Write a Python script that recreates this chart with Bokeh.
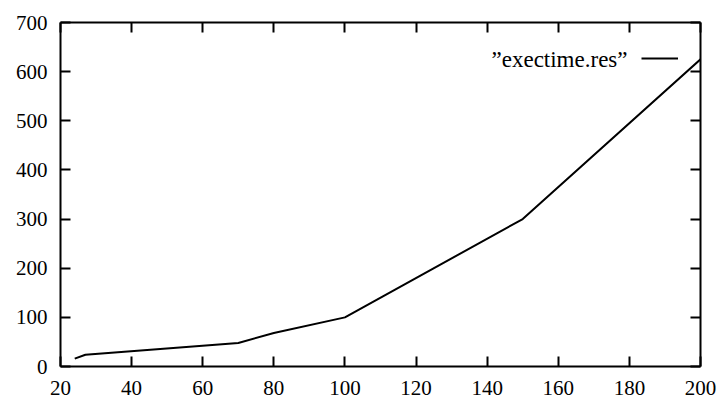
from bokeh.plotting import figure
from bokeh.models import Range1d, FixedTicker, LinearAxis, Legend, LegendItem, Label, CustomLabelingPolicy
from bokeh.embed import file_html
from bokeh.resources import INLINE

# data
x_vals = [24, 27, 70, 80, 100, 150, 200]
y_vals = [16, 24, 48, 68, 100, 300, 625]
x_ticks = [20, 40, 60, 80, 100, 120, 140, 160, 180, 200]
y_ticks = [0, 100, 200, 300, 400, 500, 600, 700]
series_name = "\u201dexectime.res\u201d"

FONT = "Times New Roman"
FS = "21px"
FS_LEG = "23px"

p = figure(output_backend="svg", toolbar_location=None,
           x_range=Range1d(20, 200), y_range=Range1d(0, 700),
           x_axis_location=None, y_axis_location=None,
           frame_width=640, frame_height=344,
           min_border_left=60, min_border_top=22, min_border_right=19, min_border_bottom=35)
p.grid.visible = False
p.outline_line_color = None
p.background_fill_color = "white"
p.border_fill_color = "white"

hide = CustomLabelingPolicy(code="""
for (const i of indices) indices.unset(i)
return indices
""")

def style(ax, labels=True):
    ax.axis_line_width = 2
    ax.axis_line_color = "black"
    ax.major_tick_line_width = 2
    ax.major_tick_line_color = "black"
    ax.major_tick_in = 10
    ax.major_tick_out = 0
    ax.minor_tick_line_color = None
    ax.major_label_text_font = FONT
    ax.major_label_text_color = "black"
    ax.major_label_text_font_size = FS
    ax.major_label_standoff = 13
    if not labels:
        ax.major_label_policy = hide
        ax.major_label_standoff = 0

xb = LinearAxis(ticker=FixedTicker(ticks=x_ticks)); style(xb)
xb.major_label_standoff = 14
xt = LinearAxis(ticker=FixedTicker(ticks=x_ticks)); style(xt, False)
yl = LinearAxis(ticker=FixedTicker(ticks=y_ticks)); style(yl)
yr = LinearAxis(ticker=FixedTicker(ticks=y_ticks)); style(yr, False)
p.add_layout(xb, "below")
p.add_layout(xt, "above")
p.add_layout(yl, "left")
p.add_layout(yr, "right")

r = p.line(x_vals, y_vals, line_color="black", line_width=2)

leg = Legend(items=[LegendItem(label=" ", renderers=[r])], location=(581, 298),
             glyph_width=37, glyph_height=20, label_width=0, label_standoff=0,
             label_text_font_size="1px", padding=0, spacing=0, margin=0,
             border_line_color=None, background_fill_alpha=0)
p.add_layout(leg, "center")

lab = Label(x=567, y=307, x_units="screen", y_units="screen", text=series_name,
            text_align="right", text_baseline="middle", text_font=FONT,
            text_font_size=FS_LEG, text_color="black")
p.add_layout(lab)

open("out.html", "w").write(file_html(p, INLINE))
